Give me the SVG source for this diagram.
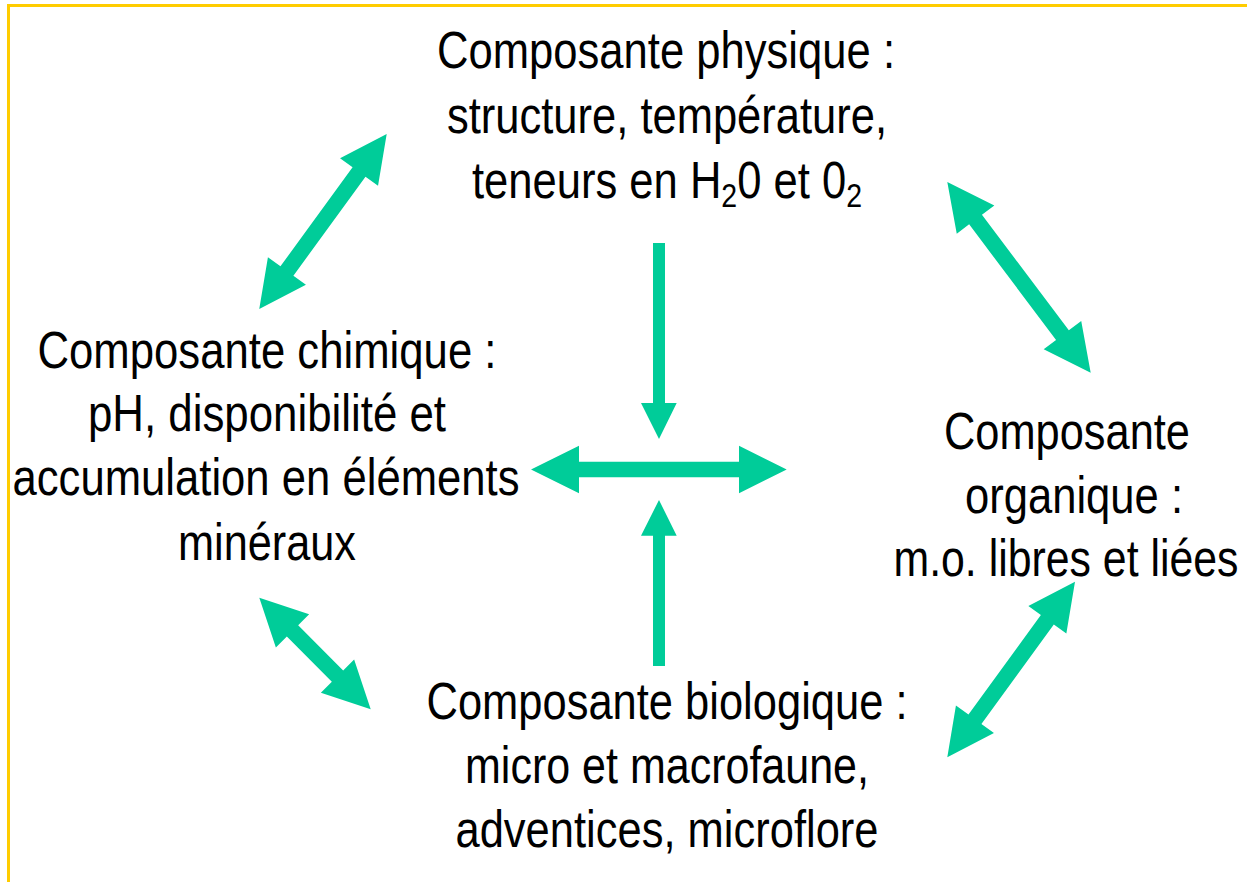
<svg xmlns="http://www.w3.org/2000/svg" width="1247" height="882" viewBox="0 0 1247 882">
<style>
.t{font-family:"Liberation Sans",Arial,sans-serif;font-size:52px;fill:#000;text-anchor:middle}
.a{fill:#00CC99}
.b{stroke:#FFCC00;stroke-width:3;fill:none}
</style>
<rect x="0" y="0" width="1247" height="882" fill="#fff"/>
<path class="b" d="M1247,5.5 H8.5 V882"/>
<g id="connectors">
<polygon class="a" transform="translate(386.7,134) rotate(126.06)" points="0,0 47,-23.5 47,-8 169.5,-8 169.5,-23.5 216.5,0 169.5,23.5 169.5,8 47,8 47,23.5"/>
<polygon class="a" transform="translate(947.3,182) rotate(53.06)" points="0,0 47,-23.5 47,-8 191.6,-8 191.6,-23.5 238.6,0 191.6,23.5 191.6,8 47,8 47,23.5"/>
<polygon class="a" transform="translate(259.3,597.7) rotate(45.05)" points="0,0 47,-23.5 47,-8 110.7,-8 110.7,-23.5 157.7,0 110.7,23.5 110.7,8 47,8 47,23.5"/>
<polygon class="a" transform="translate(1075,581.7) rotate(126.03)" points="0,0 47,-23.5 47,-8 170.1,-8 170.1,-23.5 217.1,0 170.1,23.5 170.1,8 47,8 47,23.5"/>
<polygon class="a" points="531,469.5 579,445.7 579,461.7 739,461.7 739,445.7 786.7,469.5 739,493.3 739,477.3 579,477.3 579,493.3"/>
<polygon class="a" points="653,243 665,243 665,403 676.7,403 659,439 641,403 653,403"/>
<polygon class="a" points="659,500 676.7,535.7 665,535.7 665,666 653,666 653,535.7 641,535.7"/>
</g>
<g id="physique">
<text class="t" x="666" y="68" textLength="458" lengthAdjust="spacingAndGlyphs">Composante physique :</text>
<text class="t" x="667" y="133" textLength="440" lengthAdjust="spacingAndGlyphs">structure, température,</text>
<text class="t" x="667" y="198" textLength="390" lengthAdjust="spacingAndGlyphs">teneurs en H<tspan font-size="34" dy="9">2</tspan><tspan dy="-9">0 et 0</tspan><tspan font-size="34" dy="9">2</tspan></text>
</g>
<g id="chimique">
<text class="t" x="267" y="368" textLength="459" lengthAdjust="spacingAndGlyphs">Composante chimique :</text>
<text class="t" x="267" y="431" textLength="358" lengthAdjust="spacingAndGlyphs">pH, disponibilité et</text>
<text class="t" x="266" y="495" textLength="507" lengthAdjust="spacingAndGlyphs">accumulation en éléments</text>
<text class="t" x="267" y="560" textLength="178" lengthAdjust="spacingAndGlyphs">minéraux</text>
</g>
<g id="organique">
<text class="t" x="1067" y="449" textLength="246" lengthAdjust="spacingAndGlyphs">Composante</text>
<text class="t" x="1074" y="513" textLength="218" lengthAdjust="spacingAndGlyphs">organique :</text>
<text class="t" x="1066" y="576" textLength="345" lengthAdjust="spacingAndGlyphs">m.o. libres et liées</text>
</g>
<g id="biologique">
<text class="t" x="667" y="719" textLength="481" lengthAdjust="spacingAndGlyphs">Composante biologique :</text>
<text class="t" x="667" y="783" textLength="404" lengthAdjust="spacingAndGlyphs">micro et macrofaune,</text>
<text class="t" x="667" y="847" textLength="423" lengthAdjust="spacingAndGlyphs">adventices, microflore</text>
</g>
</svg>
